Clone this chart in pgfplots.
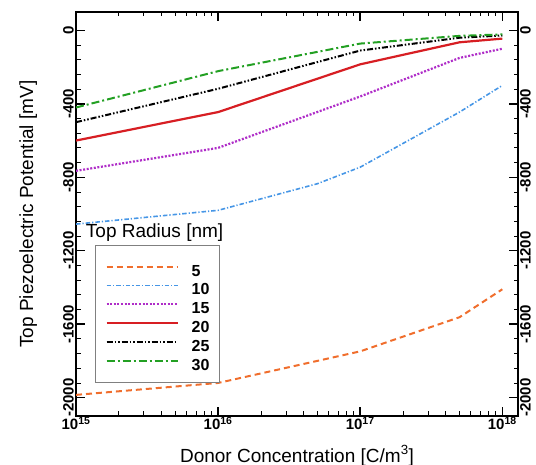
\documentclass[border=0pt]{standalone}
\usepackage{fontspec}
\setmainfont{Liberation Sans}
\usepackage{pgfplots}
\pgfplotsset{compat=1.18}
\definecolor{corange}{RGB}{240,110,45}
\definecolor{cblue}{RGB}{70,150,230}
\definecolor{cmag}{RGB}{175,45,200}
\definecolor{cred}{RGB}{215,30,35}
\definecolor{cgreen}{RGB}{35,160,35}
\newcommand{\tickfont}{\fontsize{15bp}{15bp}\selectfont\bfseries}
\newcommand{\tl}[1]{\mbox{\tickfont #1}}
\newcommand{\xl}[1]{\mbox{\tickfont 10\textsuperscript{#1}}}
\begin{document}
\begin{tikzpicture}
\useasboundingbox (-76bp,-49bp) rectangle (460bp,416bp);
\begin{axis}[
  at={(0,0)}, anchor=south west,
  width=442bp, height=404bp, scale only axis,
  xmode=log, xmin=1e15, xmax=1.29e18,
  ymin=-2100, ymax=100,
  xtick={1e15,1e16,1e17,1e18},
  xticklabels={\xl{15},\xl{16},\xl{17},\xl{18}},
  ytick={0,-400,-800,-1200,-1600,-2000},
  yticklabels={\tl{0},\tl{-400},\tl{-800},\tl{-1200},\tl{-1600},\tl{-2000}},
  minor y tick num=4,
  tick align=inside,
  major tick length=9bp, minor tick length=4.5bp,
  major tick style={line width=1.5bp, black},
  minor tick style={line width=0.8bp, black},
  axis line style={line width=1.6bp},
  xticklabel style={inner sep=1bp},
  yticklabel style={rotate=90, anchor=south, inner sep=2bp},
  xlabel={Donor Concentration [C/m\textsuperscript{3}]},
  ylabel={Top Piezoelectric Potential [mV]},
  xlabel style={font=\fontsize{19bp}{19bp}\selectfont, at={(axis description cs:0.5,-0.1139)}, anchor=base},
  ylabel style={font=\fontsize{19bp}{19bp}\selectfont, at={(axis description cs:-0.0973,0.5)}, anchor=base},
  legend cell align=left,
  legend image code/.code={\draw[#1] (0bp,0bp) -- (71bp,0bp);},
  legend style={at={(0.043,0.423)}, anchor=north west,
    draw=gray, line width=0.8bp, fill=white,
    inner xsep=10bp, inner ysep=12bp,
    font=\fontsize{16bp}{16bp}\selectfont\bfseries,
    column sep=13bp, row sep=0.3bp,
    nodes={inner sep=0pt, text height=18.5bp, text depth=0bp}},
]
\addplot[corange, line width=2bp, dash pattern=on 6bp off 4bp] coordinates {
 (1e15,-1985) (1e16,-1920) (1e17,-1748) (5e17,-1562) (1e18,-1410)};
\addlegendentry{5}
\addplot[cblue, line width=1.6bp, dash pattern=on 4.5bp off 2bp on 1.2bp off 2bp] coordinates {
 (1e15,-1055) (1e16,-980) (5e16,-835) (1e17,-745) (5e17,-445) (1e18,-300)};
\addlegendentry{10}
\addplot[cmag, line width=2.2bp, dash pattern=on 2bp off 1.6bp] coordinates {
 (1e15,-765) (1e16,-640) (1e17,-360) (5e17,-150) (1e18,-100)};
\addlegendentry{15}
\addplot[cred, line width=2.2bp] coordinates {
 (1e15,-600) (1e16,-445) (1e17,-185) (5e17,-65) (1e18,-45)};
\addlegendentry{20}
\addplot[black, line width=2bp, dash pattern=on 6bp off 2bp on 1.5bp off 2bp on 1.5bp off 2bp] coordinates {
 (1e15,-500) (1e16,-318) (1e17,-110) (5e17,-40) (1e18,-28)};
\addlegendentry{25}
\addplot[cgreen, line width=2bp, dash pattern=on 8bp off 3bp on 2bp off 3bp] coordinates {
 (1e15,-420) (1e16,-222) (1e17,-72) (5e17,-30) (1e18,-22)};
\addlegendentry{30}
\node[anchor=west, inner sep=0pt, font=\fontsize{19bp}{19bp}\selectfont] at (rel axis cs:0.022,0.453) {Top Radius [nm]};
\end{axis}
\begin{axis}[
  at={(0,0)}, anchor=south west,
  width=442bp, height=404bp, scale only axis,
  xmin=0, xmax=1, ymin=-2100, ymax=100,
  axis x line=none, axis y line*=right,
  ytick={0,-400,-800,-1200,-1600,-2000},
  yticklabels={\tl{0},\tl{-400},\tl{-800},\tl{-1200},\tl{-1600},\tl{-2000}},
  minor y tick num=4,
  tick align=inside,
  major tick length=9bp, minor tick length=4.5bp,
  major tick style={line width=1.5bp, black},
  minor tick style={line width=0.8bp, black},
  axis line style={line width=1.6bp, -},
  yticklabel style={rotate=90, anchor=north, inner sep=2bp},
]
\end{axis}
\end{tikzpicture}
\end{document}
